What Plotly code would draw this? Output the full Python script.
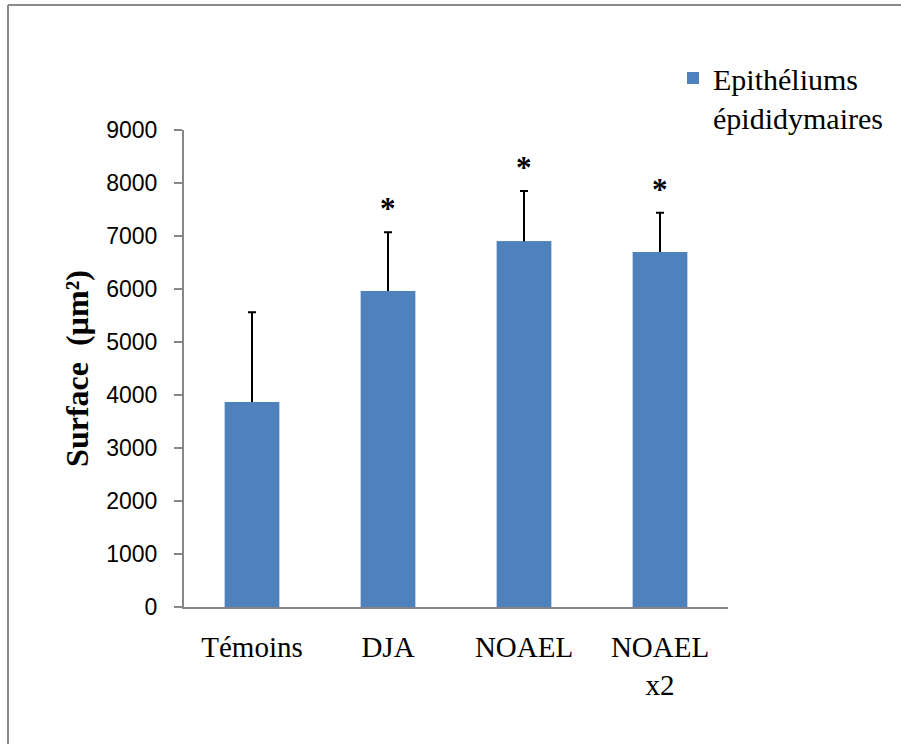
import plotly.graph_objects as go

categories = ["Témoins", "DJA", "NOAEL", "NOAEL<br>x2"]
values = [3870, 5960, 6900, 6700]
errors_plus = [1690, 1110, 950, 740]
significant = [False, True, True, True]
series_name = "Epithéliums<br>épididymaires"
y_ticks = [0, 1000, 2000, 3000, 4000, 5000, 6000, 7000, 8000, 9000]

W, H = 901, 744
L, R, T, B = 184, 173, 130, 137
pw, ph = W - L - R, H - T - B

def px_x(x):
    return (x - L) / pw

def px_y(y):
    return (H - B - y) / ph

bar_color = "#4F81BD"
fig = go.Figure()
# bar with (symmetric) error bars; lower half hidden by the overlaid bar below
fig.add_trace(go.Bar(
    x=categories, y=values, name=series_name,
    marker=dict(color=bar_color, line=dict(width=0)),
    error_y=dict(type="data", array=errors_plus, symmetric=True,
                 color="black", thickness=2, width=4),
    showlegend=False, hoverinfo="skip",
))
fig.add_trace(go.Bar(
    x=categories, y=values, name=series_name,
    marker=dict(color=bar_color, line=dict(width=0)),
    showlegend=True,
))

for c, v, e, s in zip(categories, values, errors_plus, significant):
    if s:
        fig.add_annotation(x=c, y=v + e, text="<b>*</b>", showarrow=False, yanchor="bottom",
                           yshift=4, font=dict(family="Liberation Serif", size=31, color="black"))

serif = "Liberation Serif, Times New Roman, serif"
fig.update_layout(
    width=W, height=H,
    margin=dict(l=L, r=R, t=T, b=B, autoexpand=False),
    paper_bgcolor="white", plot_bgcolor="white",
    barmode="overlay",
    bargap=0.6,
    showlegend=True,
    legend=dict(x=px_x(673), y=px_y(52), xanchor="left", yanchor="top",
                font=dict(family=serif, size=30, color="black"), valign="top",
                bgcolor="rgba(0,0,0,0)", itemwidth=30, tracegroupgap=0),
    xaxis=dict(showline=True, linecolor="#868686", linewidth=2, ticks="",
               tickfont=dict(family=serif, size=29, color="black"),
               ticklabelstandoff=13, showgrid=False, zeroline=False),
    yaxis=dict(range=[0, 9000], tickvals=y_ticks, showline=True, linecolor="#868686",
               linewidth=2, ticks="outside", ticklen=8, tickcolor="#868686", tickwidth=2,
               tickfont=dict(family="Liberation Sans, Arial, sans-serif", size=23, color="black"),
               ticklabelstandoff=12, showgrid=False, zeroline=False,
               title=dict(text="<b>Surface  (µm²)</b>", standoff=8,
                          font=dict(family=serif, size=32, color="black"))),
    shapes=[
        dict(type="line", xref="paper", yref="paper", x0=px_x(8), x1=px_x(905),
             y0=px_y(5), y1=px_y(5), line=dict(color="#8a8a8a", width=2)),
        dict(type="line", xref="paper", yref="paper", x0=px_x(8), x1=px_x(8),
             y0=px_y(5), y1=px_y(750), line=dict(color="#8a8a8a", width=2)),
    ],
)

fig.write_html("out.html", config={"displayModeBar": False},
               post_script="document.body.style.margin='0';document.body.style.overflow='hidden';")
